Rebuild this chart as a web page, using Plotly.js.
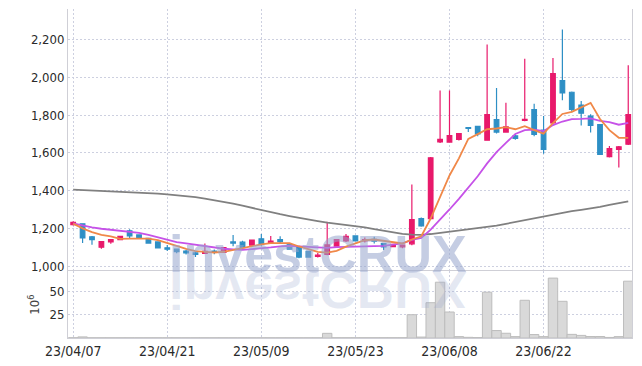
<!DOCTYPE html>
<html>
<head>
<meta charset="utf-8">
<script src="https://cdn.plot.ly/plotly-3.0.1.min.js"></script>
<style>
  html, body { margin: 0; padding: 0; background: #ffffff; }
  #chart { width: 642px; height: 366px; }
</style>
</head>
<body>
<div id="chart"></div>
<script>
// ---- data ----
const dates = [
  "23/04/07","23/04/10","23/04/11","23/04/12","23/04/13","23/04/14",
  "23/04/17","23/04/18","23/04/19","23/04/20","23/04/21",
  "23/04/24","23/04/25","23/04/26","23/04/27","23/04/28",
  "23/05/02","23/05/03","23/05/04","23/05/08","23/05/09",
  "23/05/10","23/05/11","23/05/12","23/05/15","23/05/16","23/05/17","23/05/18","23/05/19",
  "23/05/22","23/05/23","23/05/24","23/05/25","23/05/26",
  "23/05/30","23/05/31","23/06/01","23/06/02","23/06/05","23/06/07","23/06/08",
  "23/06/09","23/06/12","23/06/13","23/06/14","23/06/15","23/06/16",
  "23/06/19","23/06/20","23/06/21","23/06/22","23/06/23",
  "23/06/26","23/06/27","23/06/28","23/06/29","23/06/30",
  "23/07/03","23/07/04","23/07/05"
];
const openP = [1219,1224,1155,1100,1128,1140,1187,1165,1147,1128,1097,1090,1080,1070,1068,1080,1072,1128,1127,1111,
  1145,1120,1140,1114,1098,1078,1052,1062,1106,1133,1160,1133,1142,1119,1103,1102,1118,1252,1252,1658,
  1657,1671,1734,1740,1667,1776,1710,1690,1772,1829,1720,1758,1983,1921,1853,1795,1750,1580,1618,1646];
const highP = [1238,1226,1160,1131,1142,1160,1195,1168,1148,1130,1112,1092,1085,1080,1120,1088,1100,1165,1135,1140,
  1170,1160,1158,1118,1100,1080,1070,1235,1143,1170,1162,1152,1155,1122,1118,1114,1432,1258,1578,1930,
  1930,1705,1736,1742,2174,1944,1865,1698,2098,1860,1795,2103,2253,1925,1875,1805,1752,1636,1636,2064];
const lowP = [1215,1122,1113,1092,1118,1138,1148,1150,1120,1095,1080,1068,1062,1048,1065,1063,1070,1105,1092,1108,
  1108,1118,1120,1088,1042,1045,1046,1058,1103,1128,1130,1125,1120,1085,1100,1095,1110,1208,1248,1652,
  1653,1665,1710,1688,1664,1702,1708,1670,1768,1688,1595,1755,1878,1815,1745,1708,1588,1576,1522,1642];
const closeP = [1232,1150,1140,1130,1140,1158,1160,1152,1122,1097,1090,1076,1070,1062,1078,1072,1098,1122,1098,1138,
  1118,1132,1130,1090,1048,1048,1058,1112,1140,1158,1133,1141,1132,1102,1115,1111,1247,1213,1574,1672,
  1692,1702,1730,1700,1803,1710,1738,1676,1778,1698,1618,2020,1918,1830,1810,1746,1592,1622,1632,1803];
const volume = [0.3,1.2,0.2,0.2,0.2,0.2,0.2,0.2,0.2,0.2,0.2,0.2,0.2,0.2,0.2,0.2,0.2,0.2,0.2,0.2,
  0.2,0.2,0.2,0.2,0.2,0.2,0.2,5.0,0.3,0.3,0.3,0.3,0.3,0.3,0.3,0.3,25.0,1.0,37.9,59.9,
  27.9,1.5,0.7,0.5,49.2,8.0,5.1,1.5,40.5,3.7,1.5,64.3,39.4,3.9,2.8,1.6,1.6,0.6,1.5,61.0];
const ma5 = [1225,1200,1180,1165,1158,1144,1146,1148,1146,1138,1124,1107,1091,1079,1075,1072,1076,1086,1094,1106,
  1115,1122,1123,1122,1104,1090,1075,1071,1081,1103,1120,1137,1141,1133,1125,1120,1141,1158,1252,1363,
  1480,1571,1674,1699,1725,1729,1736,1725,1741,1720,1702,1758,1806,1817,1839,1865,1779,1720,1680,1679];
const ma10 = [1226,1214,1205,1198,1192,1188,1184,1176,1166,1152,1138,1127,1120,1113,1107,1098,1092,1089,1086,1090,
  1093,1099,1105,1108,1105,1102,1098,1097,1101,1103,1105,1106,1106,1107,1114,1120,1139,1149,1193,1244,
  1300,1356,1416,1476,1544,1604,1653,1700,1720,1723,1715,1747,1766,1779,1780,1783,1769,1763,1749,1759];
const maLong = [1405,1403,1401,1399,1397,1395,1393,1390,1387,1384,1380,1376,1371,1366,1358,1350,1341,1331,1320,1308,
  1296,1285,1275,1265,1255,1246,1238,1230,1224,1218,1213,1205,1196,1187,1178,1171,1167,1165,1170,1176,
  1182,1188,1194,1200,1207,1214,1224,1234,1244,1255,1265,1274,1283,1291,1298,1305,1314,1324,1334,1343];
const tickDates = ["23/04/07","23/04/21","23/05/09","23/05/23","23/06/08","23/06/22"];
const priceTicks = [1000,1200,1400,1600,1800,2000,2200];
const volTicks = [25,50];
const watermark = "investCRUX";

// ---- styles ----
const UP = '#e8196b', DOWN = '#2e8fc5';
const GRID = '#cdd0e0';
const LINE = '#cfcfd6';
const tickFont = {family: 'DejaVu Sans Condensed, Liberation Sans Narrow, sans-serif', size: 13, color: '#2a2a2a'};

const traces = [
  {
    type: 'candlestick', x: dates, open: openP, high: highP, low: lowP, close: closeP,
    xaxis: 'x', yaxis: 'y', whiskerwidth: 0,
    increasing: {line: {color: UP, width: 1.2}, fillcolor: UP},
    decreasing: {line: {color: DOWN, width: 1.2}, fillcolor: DOWN},
    showlegend: false, hoverinfo: 'skip'
  },
  {type: 'scatter', mode: 'lines', x: dates, y: maLong, xaxis: 'x', yaxis: 'y',
   line: {color: '#808080', width: 1.8}, showlegend: false, hoverinfo: 'skip'},
  {type: 'scatter', mode: 'lines', x: dates, y: ma10, xaxis: 'x', yaxis: 'y',
   line: {color: '#c652e8', width: 1.8}, showlegend: false, hoverinfo: 'skip'},
  {type: 'scatter', mode: 'lines', x: dates, y: ma5, xaxis: 'x', yaxis: 'y',
   line: {color: '#f08848', width: 1.8}, showlegend: false, hoverinfo: 'skip'},
  {type: 'bar', x: dates, y: volume, xaxis: 'x', yaxis: 'y2',
   marker: {color: '#d9d9d9', line: {color: '#bdbdbd', width: 1}},
   showlegend: false, hoverinfo: 'skip'}
];

const layout = {
  width: 642, height: 366,
  margin: {l: 68, r: 10, t: 9, b: 28, pad: 0},
  paper_bgcolor: '#ffffff', plot_bgcolor: '#ffffff',
  hovermode: false, bargap: 0, showlegend: false,
  xaxis: {
    type: 'category', anchor: 'y2', range: [-0.55, 59.4],
    tickmode: 'array', tickvals: tickDates, ticktext: tickDates,
    showgrid: true, gridcolor: GRID, griddash: '2px,2px', gridwidth: 1,
    showline: true, mirror: true, linecolor: LINE, linewidth: 1,
    ticks: '', tickfont: {family: tickFont.family, size: 14, color: '#2a2a2a'},
    rangeslider: {visible: false}, zeroline: false
  },
  yaxis: {
    domain: [0.203, 1], range: [973, 2362],
    tickmode: 'array', tickvals: priceTicks, tickformat: ',',
    showgrid: true, gridcolor: GRID, griddash: '2px,2px', gridwidth: 1,
    showline: true, mirror: true, linecolor: LINE, linewidth: 1,
    ticks: '', tickfont: tickFont, zeroline: false
  },
  yaxis2: {
    domain: [0, 0.203], range: [0, 71.7],
    tickmode: 'array', tickvals: volTicks,
    showgrid: true, gridcolor: GRID, griddash: '2px,2px', gridwidth: 1,
    showline: true, mirror: true, linecolor: LINE, linewidth: 1,
    ticks: '', tickfont: tickFont, zeroline: false,
    title: {text: '10<sup>6</sup>', font: {family: tickFont.family, size: 13, color: '#444'}, standoff: 6}
  },
  annotations: [
    {text: watermark, xref: 'paper', yref: 'paper', x: 0.443, y: 0.161,
     xanchor: 'center', yanchor: 'bottom', showarrow: false,
     font: {family: 'Liberation Sans, Arial, sans-serif', size: 52, color: 'rgba(150,164,204,0.55)', weight: 'bold'}},
    {text: watermark, xref: 'paper', yref: 'paper', x: 0.443, y: 0.161,
     xanchor: 'center', yanchor: 'bottom', showarrow: false,
     font: {family: 'Liberation Sans, Arial, sans-serif', size: 52, color: 'rgba(150,164,204,0.25)', weight: 'bold'}}
  ]
};

const gd = document.getElementById('chart');
Plotly.newPlot(gd, traces, layout, {staticPlot: true, displayModeBar: false}).then(function () {
  const anns = gd.querySelectorAll('g.annotation');
  if (anns.length > 1) {
    const mainText = anns[0].querySelector('text');
    const svgRect = gd.querySelector('svg.main-svg').getBoundingClientRect();
    const r = mainText.getBoundingClientRect();
    const baseline = r.bottom - svgRect.top - 0.21 * 52;
    anns[1].setAttribute('transform', 'translate(0,' + (2 * baseline) + ') scale(1,-1)');
  }
});
</script>
</body>
</html>
